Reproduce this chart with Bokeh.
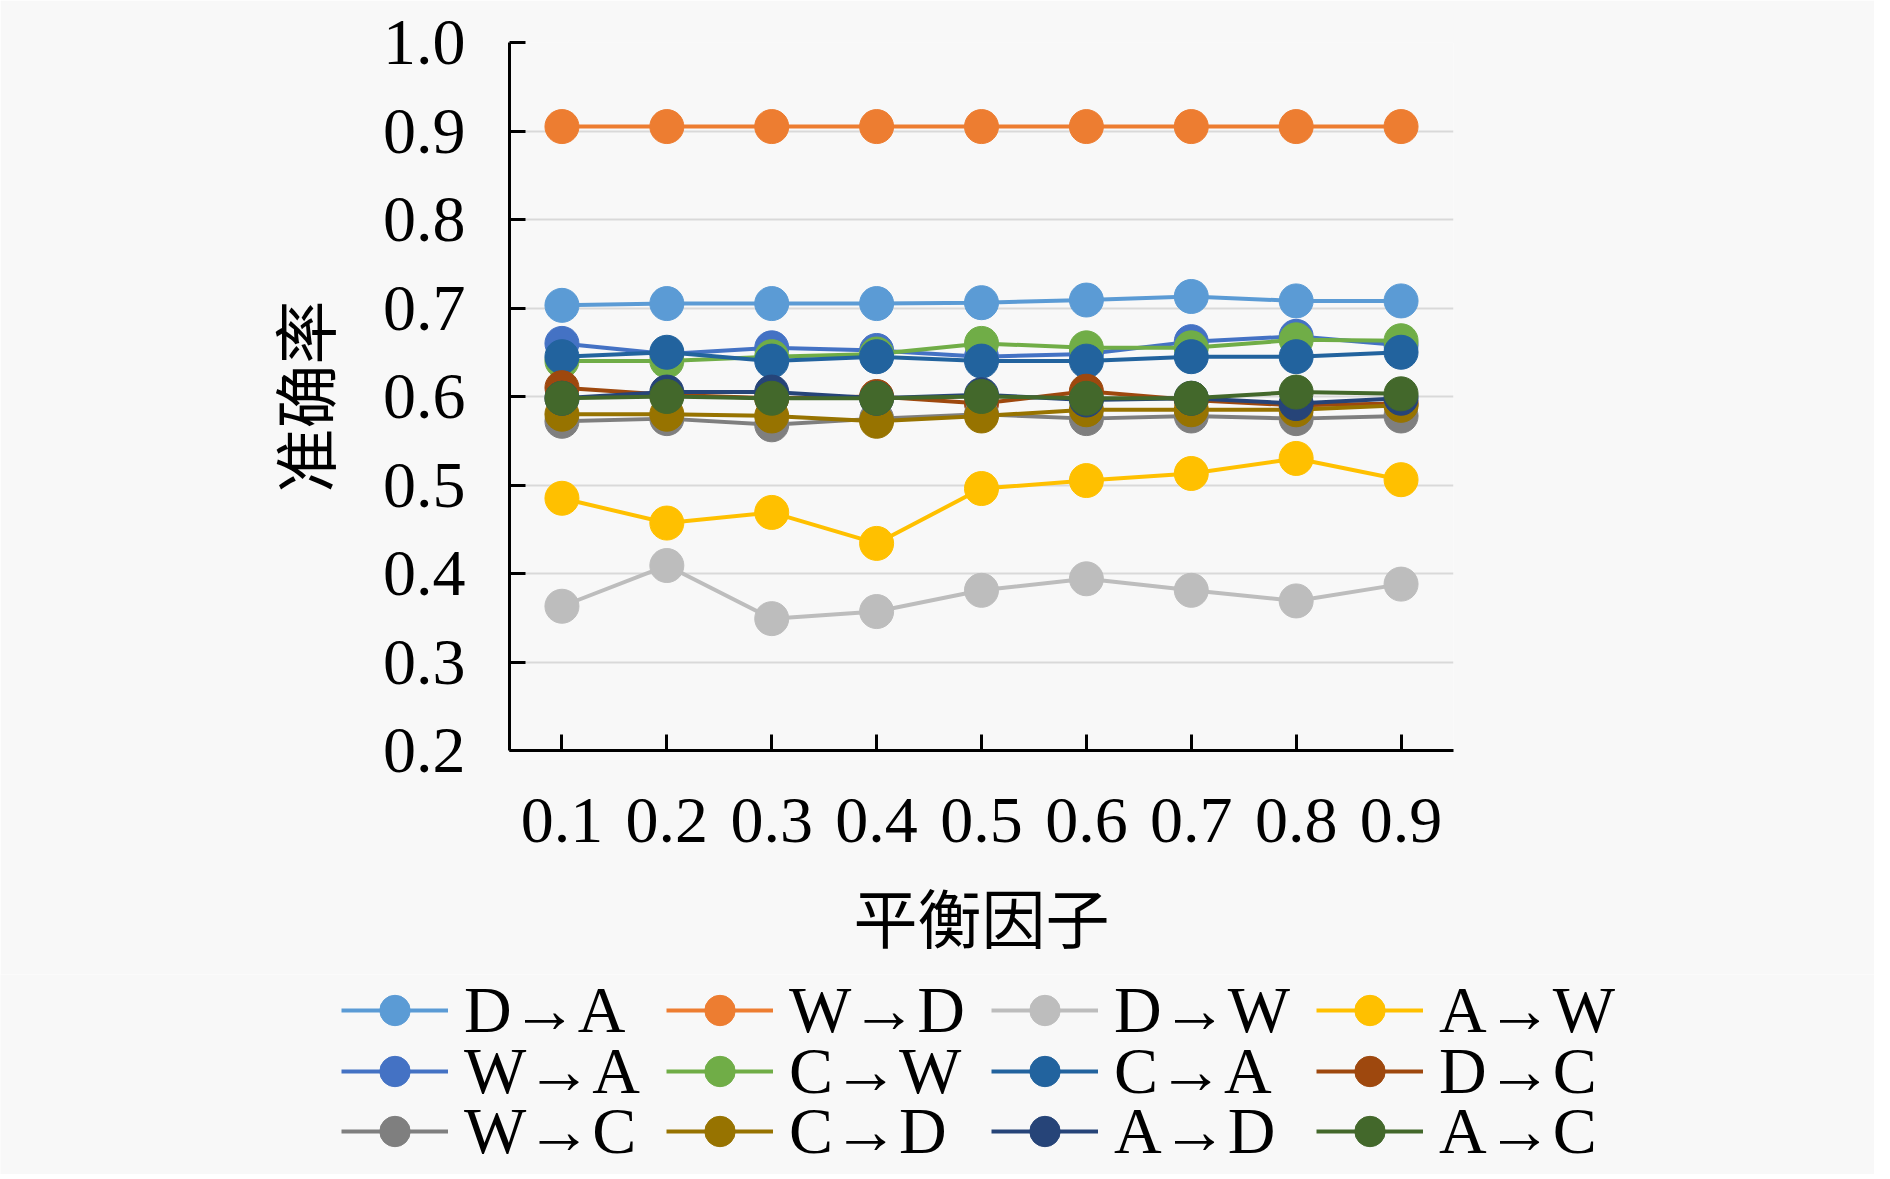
from bokeh.plotting import figure
from bokeh.models import Range1d, FixedTicker, NumeralTickFormatter, Legend, LegendItem
from bokeh.layouts import column
from bokeh.embed import file_html
from bokeh.resources import INLINE

x_factors = [0.1, 0.2, 0.3, 0.4, 0.5, 0.6, 0.7, 0.8, 0.9]
y_ticks = [0.2, 0.3, 0.4, 0.5, 0.6, 0.7, 0.8, 0.9, 1.0]

series_names = ["D→A", "W→D", "D→W", "A→W", "W→A", "C→W",
                "C→A", "D→C", "W→C", "C→D", "A→D", "A→C"]

d_a = [0.703, 0.705, 0.705, 0.705, 0.706, 0.709, 0.713, 0.708, 0.708]
w_d = [0.905, 0.905, 0.905, 0.905, 0.905, 0.905, 0.905, 0.905, 0.905]
d_w = [0.363, 0.409, 0.349, 0.357, 0.381, 0.394, 0.381, 0.369, 0.388]
a_w = [0.485, 0.457, 0.469, 0.434, 0.496, 0.505, 0.513, 0.530, 0.506]
w_a = [0.660, 0.648, 0.655, 0.652, 0.645, 0.648, 0.662, 0.668, 0.658]
c_w = [0.640, 0.640, 0.645, 0.648, 0.660, 0.655, 0.655, 0.664, 0.663]
c_a = [0.645, 0.650, 0.640, 0.645, 0.640, 0.640, 0.645, 0.645, 0.650]
d_c = [0.610, 0.602, 0.598, 0.600, 0.592, 0.606, 0.596, 0.590, 0.592]
w_c = [0.572, 0.575, 0.568, 0.575, 0.580, 0.575, 0.578, 0.575, 0.578]
c_d = [0.580, 0.580, 0.578, 0.572, 0.578, 0.585, 0.585, 0.585, 0.590]
a_d = [0.598, 0.605, 0.605, 0.598, 0.602, 0.596, 0.598, 0.592, 0.598]
a_c = [0.598, 0.600, 0.598, 0.598, 0.600, 0.598, 0.598, 0.605, 0.603]

series_values = [d_a, w_d, d_w, a_w, w_a, c_w, c_a, d_c, w_c, c_d, a_d, a_c]
series_colors = ["#5B9BD5", "#ED7D31", "#BDBDBD", "#FFC000", "#4472C4", "#70AD47",
                 "#22639E", "#9E480E", "#7F7F7F", "#977300", "#264478", "#43682B"]

BG = "#f8f8f8"
SERIF = "Liberation Serif"
CJK = "Noto Sans CJK SC"

# ---- main chart ----
p = figure(width=1874, height=974, output_backend="svg", toolbar_location=None,
           x_range=Range1d(0.05, 0.95), y_range=Range1d(0.2, 1.0),
           min_border_left=509, min_border_right=421,
           min_border_top=42, min_border_bottom=224,
           background_fill_color=BG, border_fill_color=BG)
p.frame_align = False
p.outline_line_color = None
p.xgrid.visible = False
p.ygrid.ticker = FixedTicker(ticks=y_ticks)
p.ygrid.grid_line_color = "#d9d9d9"
p.ygrid.grid_line_width = 2

for ax in (p.xaxis[0], p.yaxis[0]):
    ax.axis_line_color = "black"
    ax.axis_line_width = 3
    ax.major_tick_line_color = "black"
    ax.major_tick_line_width = 3
    ax.major_tick_out = 0
    ax.major_tick_in = 16
    ax.minor_tick_line_color = None
    ax.major_label_text_font = SERIF
    ax.major_label_text_font_size = "66px"
    ax.major_label_text_color = "black"
    ax.axis_label_text_font = CJK
    ax.axis_label_text_font_size = "64px"
    ax.axis_label_text_font_style = "normal"
    ax.axis_label_text_color = "black"

p.xaxis.ticker = FixedTicker(ticks=x_factors)
p.xaxis.formatter = NumeralTickFormatter(format="0.0")
p.xaxis.major_label_standoff = 48
p.xaxis.axis_label = "平衡因子"
p.xaxis.axis_label_standoff = 24

p.yaxis.ticker = FixedTicker(ticks=y_ticks)
p.yaxis.formatter = NumeralTickFormatter(format="0.0")
p.yaxis.major_label_standoff = 44
p.yaxis.axis_label = "准确率"
p.yaxis.axis_label_standoff = 32

for name, vals, col in zip(series_names, series_values, series_colors):
    p.line(x_factors, vals, line_color=col, line_width=4)
    p.scatter(x_factors, vals, size=34, fill_color=col, line_color=col, line_width=1)

# ---- legend strip (same series, drawn outside its visible range) ----
lg = figure(width=1874, height=200, output_backend="svg", toolbar_location=None,
            x_range=Range1d(0.05, 0.95), y_range=Range1d(2.0, 3.0),
            x_axis_location=None, y_axis_location=None,
            min_border=0, background_fill_color=BG, border_fill_color=BG)
lg.frame_align = False
lg.outline_line_color = None
lg.grid.visible = False

items = []
for name, vals, col in zip(series_names, series_values, series_colors):
    lr = lg.line(x_factors, vals, line_color=col, line_width=4)
    sr = lg.scatter(x_factors, vals, size=34, fill_color=col, line_color=col, line_width=1)
    items.append(LegendItem(label=name, renderers=[lr, sr]))

row_y = [126, 65, 5]
for r in range(3):
    leg = Legend(items=items[r * 4:(r + 1) * 4], orientation="horizontal",
                 location=(341, row_y[r]),
                 glyph_width=107, glyph_height=76, label_standoff=16,
                 label_width=200, spacing=2, padding=0, margin=0,
                 border_line_color=None, background_fill_alpha=0,
                 label_text_font=SERIF, label_text_font_size="66px",
                 label_text_color="black")
    lg.add_layout(leg, "center")

layout = column(p, lg, spacing=0)
open("out.html", "w").write(file_html(layout, INLINE))
